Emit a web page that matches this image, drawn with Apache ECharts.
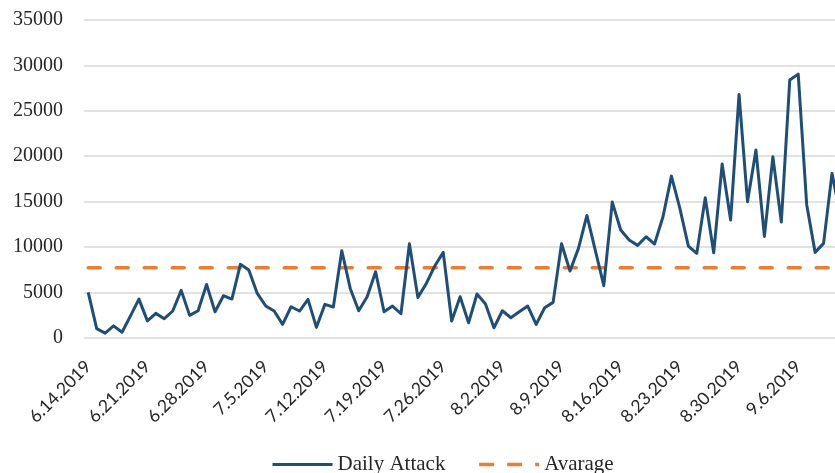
<!DOCTYPE html>
<html>
<head>
<meta charset="utf-8">
<script src="https://cdn.jsdelivr.net/npm/echarts@6/dist/echarts.min.js"></script>
<style>
  html, body { margin: 0; padding: 0; background: #fff; }
  #chart { width: 835px; height: 473px; }
</style>
</head>
<body>
<div id="chart"></div>
<script>
// Daily dates, 14 June – 11 September 2019
const dates = [
  '6.14.2019','6.15.2019','6.16.2019','6.17.2019','6.18.2019','6.19.2019','6.20.2019',
  '6.21.2019','6.22.2019','6.23.2019','6.24.2019','6.25.2019','6.26.2019','6.27.2019',
  '6.28.2019','6.29.2019','6.30.2019','7.1.2019','7.2.2019','7.3.2019','7.4.2019',
  '7.5.2019','7.6.2019','7.7.2019','7.8.2019','7.9.2019','7.10.2019','7.11.2019',
  '7.12.2019','7.13.2019','7.14.2019','7.15.2019','7.16.2019','7.17.2019','7.18.2019',
  '7.19.2019','7.20.2019','7.21.2019','7.22.2019','7.23.2019','7.24.2019','7.25.2019',
  '7.26.2019','7.27.2019','7.28.2019','7.29.2019','7.30.2019','7.31.2019','8.1.2019',
  '8.2.2019','8.3.2019','8.4.2019','8.5.2019','8.6.2019','8.7.2019','8.8.2019',
  '8.9.2019','8.10.2019','8.11.2019','8.12.2019','8.13.2019','8.14.2019','8.15.2019',
  '8.16.2019','8.17.2019','8.18.2019','8.19.2019','8.20.2019','8.21.2019','8.22.2019',
  '8.23.2019','8.24.2019','8.25.2019','8.26.2019','8.27.2019','8.28.2019','8.29.2019',
  '8.30.2019','8.31.2019','9.1.2019','9.2.2019','9.3.2019','9.4.2019','9.5.2019',
  '9.6.2019','9.7.2019','9.8.2019','9.9.2019','9.10.2019','9.11.2019'
];

// Attacks per day
const dailyAttack = [
  5000, 1000, 500, 1300, 600, 2400, 4250,
  1850, 2680, 2090, 2940, 5210, 2460, 2970,
  5870, 2860, 4620, 4260, 8080, 7450, 4880,
  3490, 2940, 1470, 3410, 2940, 4220, 1140,
  3670, 3380, 9580, 5430, 2970, 4520, 7270,
  2860, 3490, 2640, 10350, 4440, 5980, 7900,
  9400, 1840, 4520, 1650, 4810, 3710, 1100,
  2970, 2200, 2860, 3490, 1470, 3300, 3890,
  10350, 7340, 9840, 13470, 9600, 5730, 14940,
  11860, 10760, 10170, 11120, 10320, 13330, 17800,
  14240, 10100, 9290, 15420, 9360, 19130, 12960,
  26800, 14980, 20670, 11160, 19930, 12740, 28380,
  29040, 14680, 9400, 10390, 18100, 13400
];

// Average level over the period
const averageLevel = 7700;
const averageLine = dates.map(() => averageLevel);

// Value axis ticks
const yMin = 0, yMax = 35000, yStep = 5000;

const serif = '"Liberation Serif", "DejaVu Serif", serif';
const blue = '#1F4E79';
const orange = '#ED7D31';
const avgDash = [12, 16];

const chart = echarts.init(document.getElementById('chart'), null, { renderer: 'canvas' });
chart.setOption({
  backgroundColor: '#ffffff',
  animation: false,
  grid: {
    left: 84, top: 20, width: 760.7, height: 317.7,
    containLabel: false,
    outerBoundsMode: 'none'
  },
  legend: {
    left: 266,
    top: 449,
    itemWidth: 60,
    itemHeight: 14,
    itemGap: 32,
    itemStyle: { opacity: 0 },
    textStyle: { fontFamily: serif, fontSize: 21, color: '#262626' },
    data: [
      { name: 'Daily Attack', lineStyle: { width: 3, color: blue } },
      { name: 'Avarage', lineStyle: { width: 3.5, color: orange, type: [15, 13], cap: 'butt' } }
    ]
  },
  xAxis: {
    type: 'category',
    data: dates,
    boundaryGap: true,
    axisLine: { show: false },
    axisTick: { show: false },
    splitLine: { show: false },
    axisLabel: {
      interval: 6,
      rotate: 45,
      margin: 26,
      fontFamily: 'Lato, "Open Sans", sans-serif',
      fontSize: 17.5,
      color: '#262626'
    }
  },
  yAxis: {
    type: 'value',
    min: yMin,
    max: yMax,
    interval: yStep,
    axisLine: { show: false },
    axisTick: { show: false },
    splitLine: { lineStyle: { color: '#d9d9d9', width: 1.5 } },
    axisLabel: {
      fontFamily: serif, fontSize: 20, color: '#262626', margin: 21,
      formatter: (v) => String(v)
    }
  },
  series: [
    {
      name: 'Daily Attack',
      type: 'line',
      data: dailyAttack,
      symbol: 'none',
      lineStyle: { color: blue, width: 3, join: 'round' },
      itemStyle: { color: blue },
      z: 3
    },
    {
      name: 'Avarage',
      type: 'line',
      data: averageLine,
      symbol: 'none',
      lineStyle: { color: orange, width: 3.5, type: avgDash, cap: 'round' },
      itemStyle: { color: orange },
      z: 2
    }
  ]
});
</script>
</body>
</html>
